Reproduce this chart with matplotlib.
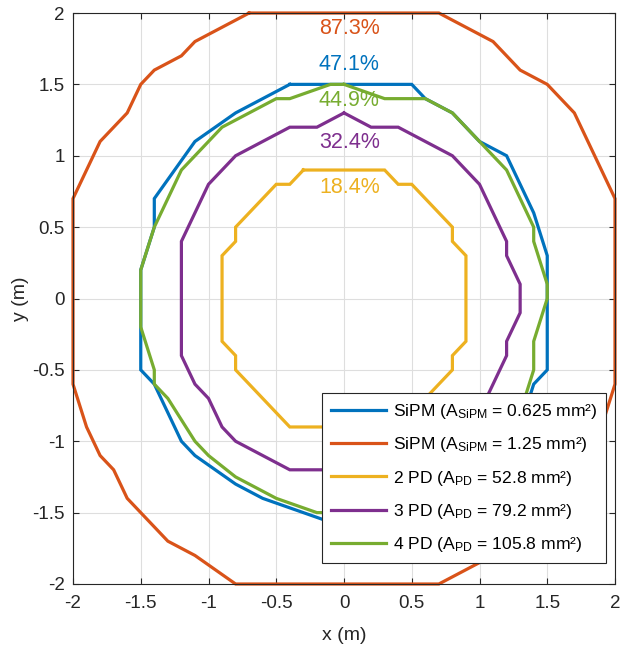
import matplotlib
matplotlib.use("Agg")
import matplotlib.pyplot as plt

plt.rcParams['font.family'] = ['Liberation Sans', 'DejaVu Sans']
plt.rcParams['mathtext.fontset'] = 'custom'
plt.rcParams['mathtext.rm'] = 'Liberation Sans'
plt.rcParams['mathtext.it'] = 'Liberation Sans:italic'

# ---- data (contour polygons, metres) ----
sipm1_x = [-0.4, 0.5, 0.6, 0.8, 1.0, 1.2, 1.4, 1.5, 1.5, 1.4, 1.3, 1.1, 0.8, 0.5, 0.0, -0.6, -0.8, -1.1, -1.2, -1.4, -1.5, -1.5, -1.4, -1.4, -1.1, -0.8, -0.4]
sipm1_y = [1.5, 1.5, 1.4, 1.3, 1.1, 1.0, 0.6, 0.3, -0.5, -0.6, -0.9, -1.1, -1.3, -1.5, -1.6, -1.4, -1.3, -1.1, -1.0, -0.6, -0.5, 0.2, 0.5, 0.7, 1.1, 1.3, 1.5]

sipm2_x = [-0.7, 0.7, 1.1, 1.3, 1.5, 1.7, 2.0, 2.0, 1.9, 1.8, 1.7, 1.5, 1.3, 1.1, 0.9, 0.7, -0.8, -1.1, -1.3, -1.5, -1.6, -1.7, -1.8, -1.9, -2.0, -2.0, -1.8, -1.6, -1.5, -1.4, -1.2, -1.1, -0.7]
sipm2_y = [2.0, 2.0, 1.8, 1.6, 1.5, 1.3, 0.7, -0.6, -0.9, -1.1, -1.3, -1.5, -1.7, -1.8, -1.9, -2.0, -2.0, -1.8, -1.7, -1.5, -1.4, -1.2, -1.1, -0.9, -0.6, 0.7, 1.1, 1.3, 1.5, 1.6, 1.7, 1.8, 2.0]

pd2_x = [-0.3, 0.3, 0.4, 0.5, 0.8, 0.8, 0.9, 0.9, 0.8, 0.8, 0.4, -0.4, -0.8, -0.8, -0.9, -0.9, -0.8, -0.8, -0.5, -0.4, -0.3]
pd2_y = [0.9, 0.9, 0.8, 0.8, 0.5, 0.4, 0.3, -0.3, -0.4, -0.5, -0.9, -0.9, -0.5, -0.4, -0.3, 0.3, 0.4, 0.5, 0.8, 0.8, 0.9]

pd3_x = [0.0, 0.2, 0.4, 0.8, 1.0, 1.2, 1.2, 1.3, 1.3, 1.2, 1.2, 1.0, 0.8, 0.4, -0.4, -0.8, -0.9, -1.0, -1.1, -1.2, -1.2, -1.0, -0.8, -0.4, -0.2, 0.0]
pd3_y = [1.3, 1.2, 1.2, 1.0, 0.8, 0.4, 0.3, 0.1, -0.1, -0.3, -0.4, -0.8, -1.0, -1.2, -1.2, -1.0, -0.9, -0.7, -0.6, -0.4, 0.4, 0.8, 1.0, 1.2, 1.2, 1.3]

pd4_x = [0.0, 0.3, 0.6, 0.8, 1.0, 1.2, 1.4, 1.4, 1.5, 1.5, 1.4, 1.4, 1.3, 1.1, 0.9, 0.6, 0.3, 0.0, -0.2, -0.5, -0.7, -0.8, -1.0, -1.1, -1.3, -1.4, -1.4, -1.5, -1.5, -1.4, -1.2, -0.9, -0.5, -0.4, -0.1, 0.0]
pd4_y = [1.5, 1.4, 1.4, 1.3, 1.1, 0.9, 0.5, 0.4, 0.1, 0.0, -0.3, -0.5, -0.8, -1.0, -1.15, -1.3, -1.4, -1.5, -1.5, -1.4, -1.3, -1.25, -1.1, -1.0, -0.7, -0.6, -0.5, -0.2, 0.2, 0.5, 0.9, 1.2, 1.4, 1.4, 1.5, 1.5]

legend_labels = [
    r'SiPM (A$_{\mathrm{SiPM}}$ = 0.625 mm²)',
    r'SiPM (A$_{\mathrm{SiPM}}$ = 1.25 mm²)',
    r'2 PD (A$_{\mathrm{PD}}$ = 52.8 mm²)',
    r'3 PD (A$_{\mathrm{PD}}$ = 79.2 mm²)',
    r'4 PD (A$_{\mathrm{PD}}$ = 105.8 mm²)',
]
coverage_labels = ['47.1%', '87.3%', '18.4%', '32.4%', '44.9%']
coverage_y = [1.64, 1.89, 0.78, 1.09, 1.39]
colors = ['#0072BD', '#D95319', '#EDB120', '#7E2F8E', '#77AC30']

series = [(sipm1_x, sipm1_y), (sipm2_x, sipm2_y), (pd2_x, pd2_y), (pd3_x, pd3_y), (pd4_x, pd4_y)]

fig = plt.figure(figsize=(6.21, 6.46), dpi=100)
ax = fig.add_axes([73/621, 62/646, 542/621, 571/646])

for (xs, ys), c, lab in zip(series, colors, legend_labels):
    ax.plot(xs, ys, color=c, lw=2.3, label=lab, clip_on=False, solid_joinstyle='miter')

for txt, yy, c in zip(coverage_labels, coverage_y, colors):
    ax.text(0.04, yy, txt, color=c, fontsize=15.5, ha='center', va='center')

ax.set_xlim(-2, 2)
ax.set_ylim(-2, 2)
ticks = [-2, -1.5, -1, -0.5, 0, 0.5, 1, 1.5, 2]
ax.set_xticks(ticks)
ax.set_yticks(ticks)
ax.set_xticklabels(['-2', '-1.5', '-1', '-0.5', '0', '0.5', '1', '1.5', '2'])
ax.set_yticklabels(['-2', '-1.5', '-1', '-0.5', '0', '0.5', '1', '1.5', '2'])
ax.tick_params(axis='both', direction='in', length=4, width=0.8, top=True, right=True,
               labelsize=13.5, colors='#262626')
ax.tick_params(axis='x', pad=8)
ax.tick_params(axis='y', pad=6)
ax.grid(True, color='#dedede', lw=0.8)
ax.set_axisbelow(True)
for s in ax.spines.values():
    s.set_color('#262626')
    s.set_linewidth(0.8)
ax.set_xlabel('x (m)', fontsize=14, color='#262626', labelpad=11)
ax.set_ylabel('y (m)', fontsize=14, color='#262626', labelpad=2)

fs = 12.6
leg = ax.legend(loc='lower right', bbox_to_anchor=((606-73)/542, (584-563)/571),
                borderaxespad=0, fontsize=fs, frameon=True, fancybox=False,
                framealpha=1, facecolor='white',
                edgecolor='#262626', handlelength=3.15, handletextpad=0.4,
                labelspacing=0.82, borderpad=0.5)
leg.get_frame().set_linewidth(0.8)
leg.set_zorder(5)

fig.savefig('out.png', dpi=100)
